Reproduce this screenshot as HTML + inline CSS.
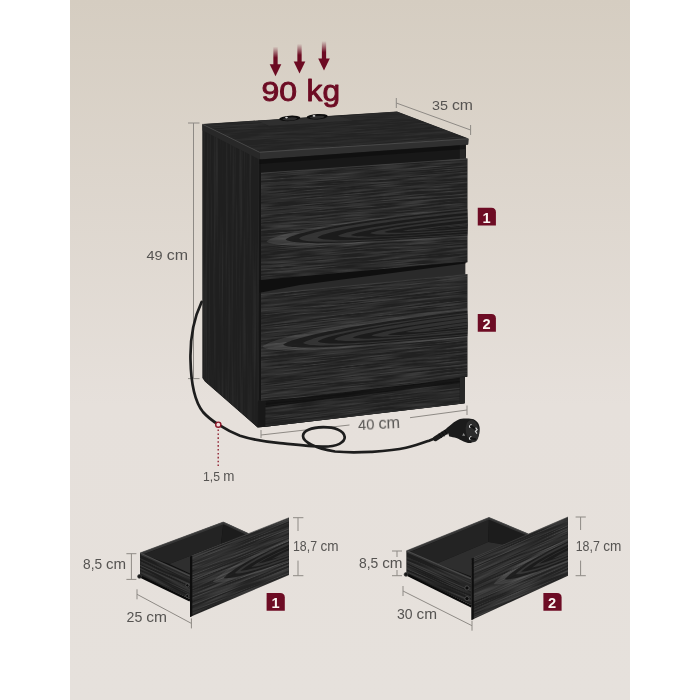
<!DOCTYPE html>
<html lang="en">
<head>
<meta charset="utf-8">
<title>Nightstand dimensions</title>
<style>
html,body{margin:0;padding:0;background:#fff;}
body{width:700px;height:700px;overflow:hidden;font-family:"Liberation Sans",sans-serif;}
svg{display:block;}
text{font-family:"Liberation Sans",sans-serif;}
.dim{fill:#545250;}
.ln{stroke:#8e8a85;stroke-width:1;fill:none;}
.red{fill:#6c0a22;}
.cath path{stroke:none;}
</style>
</head>
<body>
<svg width="700" height="700" viewBox="0 0 700 700">
<defs>
  <linearGradient id="bg" x1="0" y1="0" x2="0" y2="1">
    <stop offset="0" stop-color="#d5cdc1"/>
    <stop offset="0.58" stop-color="#e6e0db"/>
    <stop offset="1" stop-color="#e6e1dc"/>
  </linearGradient>
  <linearGradient id="shaft" x1="0" y1="0" x2="0" y2="1">
    <stop offset="0" stop-color="#6c0a22" stop-opacity="0"/>
    <stop offset="0.6" stop-color="#6c0a22" stop-opacity="1"/>
  </linearGradient>
  <filter id="grain" x="0" y="0" width="100%" height="100%" color-interpolation-filters="sRGB">
    <feTurbulence type="fractalNoise" baseFrequency="0.03 1.4" numOctaves="1" seed="11" result="n"/>
    <feColorMatrix in="n" type="matrix" values="0 0 0 0 1  0 0 0 0 1  0 0 0 0 1  3.2 0 0 0 -1.25"/>
  </filter>
  <filter id="grainV" x="0" y="0" width="100%" height="100%" color-interpolation-filters="sRGB">
    <feTurbulence type="fractalNoise" baseFrequency="0.5 0.008" numOctaves="2" seed="5" result="n"/>
    <feColorMatrix in="n" type="matrix" values="0 0 0 0 1  0 0 0 0 1  0 0 0 0 1  2.4 0 0 0 -0.95"/>
  </filter>
  <filter id="soft" x="-5%" y="-5%" width="110%" height="110%"><feGaussianBlur stdDeviation="0.6"/></filter>
  <clipPath id="cd1"><polygon points="261,173 467.3,158.6 467.3,262.3 261,280.6"/></clipPath>
  <clipPath id="cd2"><polygon points="261,294.3 467.3,274.3 467.3,376.8 420,383.2 360,390.3 300,397.5 261,400.9"/></clipPath>
  <clipPath id="ctop"><polygon points="202.3,124 397,111.5 468.5,138.5 259.5,152"/></clipPath>
  <clipPath id="cside"><polygon points="202.5,125 259.5,153 259.5,400.9 258,401 257.6,427.4 205,381.5 202.4,378"/></clipPath>
  <clipPath id="cplinth"><polygon points="265.5,401.5 459.8,377.8 459.8,403.9 265.3,426.8"/></clipPath>
  <clipPath id="csL"><polygon points="140.1,552.9 190,576 190,598.8 140.1,576"/></clipPath>
  <clipPath id="csR"><polygon points="406.6,550.7 471.5,579 471.5,605 406.6,574"/></clipPath>
  <clipPath id="cfL"><polygon points="190,556.6 289,517.7 289,575 190,617"/></clipPath>
  <clipPath id="cfR"><polygon points="471.5,558.6 568,517 568,575.7 471.5,620"/></clipPath>
</defs>

<!-- background -->
<rect x="0" y="0" width="700" height="700" fill="#ffffff"/>
<rect x="70" y="0" width="560" height="700" fill="url(#bg)"/>

<!-- ================= CABINET ================= -->
<g id="cabinet">
  <polygon points="202.6,124.3 397,111.8 468.4,138.8 468,144.6 465.2,145 465.2,158.8 467.3,158.7 467.3,262.3 465,262.5 465,274.5 467.3,274.3 467.3,376.8 464.8,377 464.6,403.3 265.3,426.8 257.6,427.4 205,381.5 202.8,378" fill="#1b1b1b"/>
  <!-- left side panel -->
  <polygon points="202.5,125 259.5,153 259.5,400.9 258,401 257.6,427.4 205,381.5 202.4,378" fill="#1f1f1f"/>
  <g clip-path="url(#cside)">
    <rect x="200" y="120" width="70" height="320" fill="#fff" filter="url(#grainV)" opacity="0.05"/>
  </g>
  <!-- side panel front edge (bottom-left) -->
  <polygon points="258,400.4 265.6,401.5 265.3,426.8 257.6,427.4" fill="#191919"/>
  <!-- recess / carcass front -->
  <polygon points="259.5,153 466,139 464.6,403.3 265.3,426.8 259.5,420" fill="#181818"/>
  <!-- right side panel front edge -->
  <polygon points="459.8,145.2 465,144.8 464.6,403.3 459.8,403.9" fill="#262626"/>
  <!-- plinth -->
  <polygon points="265.5,401.5 459.8,377.8 459.8,403.9 265.3,426.8" fill="#212121"/>
  <g clip-path="url(#cplinth)">
    <rect x="255" y="420" width="220" height="45" transform="matrix(1,-0.12,0,1,0,0)" fill="#fff" filter="url(#grain)" opacity="0.10"/>
  </g>
  <polygon points="265.5,401 459.8,377.3 459.8,383 265.5,407" fill="#0c0c0c" opacity="0.7"/>
  <!-- top slab -->
  <polygon points="202.3,124 397,111.5 468.5,138.5 259.5,152" fill="#242424"/>
  <g clip-path="url(#ctop)">
    <rect x="195" y="125" width="285" height="60" transform="matrix(1,-0.064,0,1,0,0)" fill="#fff" filter="url(#grain)" opacity="0.05"/>
  </g>
  <!-- socket panel -->
  <polygon points="257.7,120.7 339,116.2 353,120.6 269,125.8" fill="#2f2f2f"/>
  <g id="sockets">
    <ellipse cx="289.8" cy="118.4" rx="10.6" ry="2.7" fill="#0c0c0c" transform="rotate(-3.5 289.8 118.4)"/>
    <ellipse cx="289.8" cy="118.9" rx="7.4" ry="1.5" fill="#2e2e2e" transform="rotate(-3.5 289.8 118.9)"/>
    <ellipse cx="286.5" cy="117.6" rx="1.4" ry="0.8" fill="#d8d8d8"/>
    <ellipse cx="317.2" cy="116.7" rx="10.6" ry="2.7" fill="#0c0c0c" transform="rotate(-3.5 317.2 116.7)"/>
    <ellipse cx="317.2" cy="117.2" rx="7.4" ry="1.5" fill="#2e2e2e" transform="rotate(-3.5 317.2 117.2)"/>
    <ellipse cx="314" cy="115.9" rx="1.4" ry="0.8" fill="#d8d8d8"/>
  </g>
  <polygon points="259.5,152 468.6,138.7 468.2,144.6 259.5,159.5" fill="#303030"/>
  <polygon points="202.3,124 259.5,152 259.5,159.5 202.6,130.5" fill="#282828"/>
  <path d="M202.6,124.3 L259.5,152.2 L468,138.8" stroke="#585858" stroke-width="0.7" fill="none"/>
  <path d="M259.9,159.5 V400" stroke="#141414" stroke-width="1.3" fill="none"/>
  <!-- shadow under slab -->
  <polygon points="259.5,159.5 465.2,145 465.2,149 259.5,164" fill="#0c0c0c" opacity="0.6"/>
  <!-- drawer 1 -->
  <polygon points="261,173 467.3,158.6 467.3,262.3 261,280.6" fill="#212121"/>
  <g clip-path="url(#cd1)">
    <rect x="255" y="175" width="220" height="130" transform="matrix(1,-0.078,0,1,0,0)" fill="#fff" filter="url(#grain)" opacity="0.13"/>
    <g class="cath">
    <path d="M500.0,205.1 C371.5,215.8 276.4,231.3 266.4,241.5 C276.4,250.0 371.5,243.6 500.0,234.9 Z" fill="#ffffff" fill-opacity="0.10"/>
    <path d="M500.0,206.4 C382.1,216.3 295.6,230.3 285.6,239.6 C295.6,247.3 382.1,241.3 500.0,233.4 Z" fill="#181818" fill-opacity="0.85"/>
    <path d="M500.0,208.0 C389.5,217.3 309.1,230.3 299.1,238.7 C309.1,245.7 389.5,239.8 500.0,232.5 Z" fill="#ffffff" fill-opacity="0.10"/>
    <path d="M500.0,209.7 C399.6,218.3 327.4,229.9 317.4,237.4 C327.4,243.6 399.6,238.2 500.0,231.6 Z" fill="#181818" fill-opacity="0.85"/>
    <path d="M500.0,212.2 C410.9,219.9 348.0,229.7 338.0,235.8 C348.0,240.9 410.9,235.7 500.0,230.0 Z" fill="#ffffff" fill-opacity="0.10"/>
    <path d="M500.0,214.0 C418.0,221.1 360.9,229.8 350.9,235.0 C360.9,239.3 418.0,234.3 500.0,229.1 Z" fill="#181818" fill-opacity="0.85"/>
    <path d="M500.0,215.3 C428.6,221.7 380.1,228.9 370.1,233.2 C380.1,236.7 428.6,232.1 500.0,227.7 Z" fill="#ffffff" fill-opacity="0.10"/>
    <path d="M500.0,216.9 C436.4,222.7 394.4,228.7 384.4,231.9 C394.4,234.6 436.4,230.2 500.0,226.4 Z" fill="#181818" fill-opacity="0.85"/>
    <path d="M500.0,219.8 C446.5,224.8 412.8,229.0 402.8,230.7 C412.8,232.1 446.5,227.8 500.0,224.7 Z" fill="#ffffff" fill-opacity="0.10"/>
    <path d="M500.0,220.7 C456.5,224.9 430.8,228.0 420.8,229.2 C430.8,230.2 456.5,226.4 500.0,224.1 Z" fill="#181818" fill-opacity="0.85"/>
    <path d="M500.0,220.9 C466.6,224.5 449.3,226.5 439.3,227.2 C449.3,227.8 466.6,224.6 500.0,223.0 Z" fill="#ffffff" fill-opacity="0.10"/>
    </g>
  </g>
  <path d="M261,173.2 L467.3,158.8" stroke="#4c4c4c" stroke-width="0.6" fill="none"/>
  <!-- gap between drawers: top of drawer 2 + shadow -->
  <polygon points="261,281 465,262.5 465,274.5 261,294.5" fill="#2a2a2a"/>
  <polygon points="259.5,280 465.5,261.8 465.5,263.6 300,285 261,292.5 259.5,292.5" fill="#0f0f0f"/>
  <!-- drawer 2 -->
  <polygon points="261,294.3 467.3,274.3 467.3,376.8 420,383.2 360,390.3 300,397.5 261,400.9" fill="#212121"/>
  <g clip-path="url(#cd2)">
    <rect x="255" y="300" width="220" height="138" transform="matrix(1,-0.105,0,1,0,0)" fill="#fff" filter="url(#grain)" opacity="0.13"/>
    <g class="cath">
    <path d="M500.0,304.3 C369.3,317.8 272.4,336.3 262.4,346.8 C272.4,355.6 369.3,346.5 500.0,335.0 Z" fill="#ffffff" fill-opacity="0.10"/>
    <path d="M500.0,307.2 C380.8,319.5 293.2,335.8 283.2,344.7 C293.2,352.1 380.8,343.4 500.0,333.1 Z" fill="#181818" fill-opacity="0.85"/>
    <path d="M500.0,309.1 C391.6,320.5 313.0,335.1 303.0,343.0 C313.0,349.7 391.6,341.6 500.0,332.3 Z" fill="#ffffff" fill-opacity="0.10"/>
    <path d="M500.0,310.4 C399.8,320.9 327.8,334.2 317.8,341.4 C327.8,347.3 399.8,339.7 500.0,331.1 Z" fill="#181818" fill-opacity="0.85"/>
    <path d="M500.0,311.2 C408.8,320.9 344.2,332.9 334.2,339.2 C344.2,344.5 408.8,337.5 500.0,329.8 Z" fill="#ffffff" fill-opacity="0.10"/>
    <path d="M500.0,314.1 C418.8,322.8 362.4,332.7 352.4,337.5 C362.4,341.4 418.8,334.7 500.0,327.9 Z" fill="#181818" fill-opacity="0.85"/>
    <path d="M500.0,314.8 C429.3,322.6 381.4,331.2 371.4,335.6 C381.4,339.2 429.3,333.3 500.0,327.6 Z" fill="#ffffff" fill-opacity="0.10"/>
    <path d="M500.0,317.9 C438.2,324.8 397.7,331.6 387.7,334.5 C397.7,336.9 438.2,331.2 500.0,326.3 Z" fill="#181818" fill-opacity="0.85"/>
    <path d="M500.0,318.6 C448.0,324.5 415.4,329.9 405.4,332.0 C415.4,333.8 448.0,328.7 500.0,324.8 Z" fill="#ffffff" fill-opacity="0.10"/>
    <path d="M500.0,320.9 C459.8,325.7 437.0,329.2 427.0,330.1 C437.0,330.8 459.8,326.4 500.0,323.5 Z" fill="#181818" fill-opacity="0.85"/>
    <path d="M500.0,321.4 C469.2,325.4 454.0,327.8 444.0,328.5 C454.0,329.1 469.2,325.5 500.0,323.5 Z" fill="#ffffff" fill-opacity="0.10"/>
    </g>
  </g>
  <path d="M261,294.5 L467.3,274.5" stroke="#4c4c4c" stroke-width="0.6" fill="none"/>
</g>

<!-- ================= DIMENSION LINES ================= -->
<g class="ln">
  <path d="M396.3,103 L470.6,130 M396.3,98 V108 M470.6,125 V135"/>
  <path d="M193.5,123 V378.6 M188,123 H199.5 M188,378.6 H199.5"/>
  <path d="M261,435 L349.5,425 M410,417.7 L467,410 M261,430 V438 M467,405.5 V415"/>
  <path d="M131.4,553.7 V579.4 M126.4,553.7 H136.4 M126.4,579.4 H136.4"/>
  <path d="M137,594.3 L191.4,623.4 M137,589.3 V599.3 M191.4,618.4 V628.4"/>
  <path d="M298,517.7 V531 M298,560.6 V575.7 M293,517.7 H303.4 M293,575.7 H303.4"/>
  <path d="M397,551 V557 M397,570 V575.7 M392,551 H402 M392,575.7 H402"/>
  <path d="M403,591 L472,625.7 M403,586 V596 M472,620.7 V630.7"/>
  <path d="M580.6,517 V530 M580.6,560.6 V575.7 M575.6,517 H585.8 M575.6,575.7 H585.8"/>
</g>

<!-- ================= BADGES ================= -->
<g id="badges" opacity="0.99" font-weight="bold" font-size="14.6" text-anchor="middle" fill="#fbf6f2">
  <path class="red" d="M477.75,207.75 H491.4 Q495.9,207.75 495.9,212.3 V225.6 H477.75 Z"/>
  <text x="486.6" y="222.8">1</text>
  <path class="red" d="M477.75,313.9 H491.4 Q495.9,313.9 495.9,318.5 V331.7 H477.75 Z"/>
  <text x="486.5" y="328.8">2</text>
  <path class="red" d="M266.6,593 H280.2 Q284.8,593 284.8,597.6 V610.8 H266.6 Z"/>
  <text x="275.5" y="608.0">1</text>
  <path class="red" d="M543.4,593 H557.0 Q561.6,593 561.6,597.6 V610.8 H543.4 Z"/>
  <text x="552.1" y="607.9">2</text>
</g>

<!-- ================= ARROWS ================= -->
<g id="arrows">
  <rect x="273.35" y="46.5" width="4.3" height="18.7" fill="url(#shaft)"/>
  <polygon class="red" points="269.7,64.2 281.3,64.2 275.5,76.2"/>
  <rect x="297.35" y="43.8" width="4.3" height="18.6" fill="url(#shaft)"/>
  <polygon class="red" points="293.7,61.4 305.3,61.4 299.5,73.4"/>
  <rect x="321.85" y="41" width="4.3" height="18.6" fill="url(#shaft)"/>
  <polygon class="red" points="318.2,58.6 329.8,58.6 324.0,70.6"/>
</g>

<!-- ================= CABLE ================= -->
<g id="cable" fill="none" stroke="#1d1d1d" stroke-width="2.7" stroke-linecap="round" stroke-linejoin="round">
  <path d="M201.6,302 C194,318 190,340 190.5,360 C191,385 195,402 203,412 C210,420 225,430 240,435.7 C255,440.5 268,442 280,443.1 C295,444.5 310,446 322,446.7 C338,447 345,442 344.7,437 C344,430 334,427 323,427.1 C311,427.2 303,431 303,436 C303,442 315,448 335,451.5 C350,453 362,452.3 372,451.8 C390,450.5 400,449 406,447.7 C416,445.5 424,442.5 429,440.7 L437,437.5"/>
</g>

<!-- ================= LEFT DRAWER ================= -->
<g id="drawerL">
  <polygon points="140.1,552.9 223.3,522.0 248.6,533.6 190.0,556.6 190.0,598.8 140.1,576.0" fill="#101010"/>
  <polygon points="143.1,554.4 223.3,524.0 221.0,544.1 169.3,563.9" fill="#232323"/>
  <polygon points="223.3,524.0 246.6,534.8 237.9,539.3 221.0,544.1" fill="#1c1c1c"/>
  <polygon points="169.3,563.9 221.0,544.1 237.9,539.3 190.0,557.6 190.0,573.5" fill="#2e2e2e"/>
  <polygon points="140.1,552.9 190.0,576.0 190.0,598.8 140.1,576.0" fill="#1e1e1e"/>
  <g clip-path="url(#csL)"><rect x="135" y="480" width="60" height="50" transform="matrix(1,0.463,0,1,0,0)" fill="#fff" filter="url(#grain)" opacity="0.13"/></g>
  <path d="M140.9,553.9 L223.3,523.1 L247.6,534.2 M140.9,553.9 L190.0,575.7" stroke="#353535" stroke-width="2.2" fill="none" stroke-linejoin="round"/>
  <path d="M140.1,552.9 L223.3,522.0 L248.6,533.6 M140.1,552.9 L190.0,576.0" stroke="#5a5a5a" stroke-width="0.6" fill="none"/>
  <path d="M141.1,577.0 L190.0,600.3" stroke="#0a0a0a" stroke-width="2.4" fill="none"/>
  <circle cx="139.5" cy="576.4" r="1.9" fill="#151515" stroke="#3e3e3e" stroke-width="0.7"/>
  <circle cx="187.3" cy="585.4" r="1.6" fill="#0c0c0c" stroke="#5a5a5a" stroke-width="0.7"/>
  <circle cx="187.3" cy="596" r="1.6" fill="#0c0c0c" stroke="#5a5a5a" stroke-width="0.7"/>
  <polygon points="190.0,556.6 289.0,517.7 289.0,575.0 190.0,617.0" fill="#232323"/>
  <g clip-path="url(#cfL)">
    <rect x="185" y="630" width="109" height="95" transform="matrix(1,-0.393,0,1,0,0)" fill="#fff" filter="url(#grain)" opacity="0.15"/>
    <g class="cath" transform="matrix(1,-0.393,0,1,0,0)">
    <path d="M319.0,651.4 C260.6,652.4 222.7,657.1 212.7,665.6 C222.7,672.7 260.6,675.3 319.0,676.3 Z" fill="#ffffff" fill-opacity="0.10"/>
    <path d="M319.0,653.9 C266.5,654.9 233.6,658.7 223.6,665.8 C233.6,671.7 266.5,673.6 319.0,674.6 Z" fill="#181818" fill-opacity="0.85"/>
    <path d="M319.0,655.1 C272.6,656.1 244.6,659.3 234.6,665.5 C244.6,670.7 272.6,672.3 319.0,673.3 Z" fill="#ffffff" fill-opacity="0.10"/>
    <path d="M319.0,657.4 C275.6,658.4 250.2,660.6 240.2,665.3 C250.2,669.3 275.6,670.3 319.0,671.3 Z" fill="#181818" fill-opacity="0.85"/>
    <path d="M319.0,659.6 C281.7,660.6 261.3,662.0 251.3,665.8 C261.3,668.9 281.7,669.4 319.0,670.4 Z" fill="#ffffff" fill-opacity="0.10"/>
    <path d="M319.0,660.4 C285.5,661.4 268.1,662.3 258.1,665.0 C268.1,667.3 285.5,667.4 319.0,668.4 Z" fill="#181818" fill-opacity="0.85"/>
    <path d="M319.0,662.5 C293.0,663.5 281.7,663.8 271.7,665.8 C281.7,667.5 293.0,667.4 319.0,668.4 Z" fill="#ffffff" fill-opacity="0.10"/>
    </g>
  </g>
  <polygon points="190.0,556.6 192.3,555.7 192.3,616.0 190.0,617.0" fill="#0e0e0e"/>
  <path d="M192.3,555.7 L289.0,517.7" stroke="#484848" stroke-width="0.6" fill="none"/>
</g>

<!-- ================= RIGHT DRAWER ================= -->
<g id="drawerR">
  <polygon points="406.6,550.7 489.0,517.4 528.4,534.0 471.5,558.6 471.5,605.0 406.6,574.0" fill="#101010"/>
  <polygon points="409.6,552.2 489.0,519.4 488.2,542.0 437.0,563.5" fill="#232323"/>
  <polygon points="489.0,519.4 526.4,535.2 512.0,546.0 488.2,542.0" fill="#1c1c1c"/>
  <polygon points="437.0,563.5 488.2,542.0 512.0,546.0 471.5,559.6 471.5,576.5" fill="#2e2e2e"/>
  <polygon points="406.6,550.7 471.5,579.0 471.5,605.0 406.6,574.0" fill="#1e1e1e"/>
  <g clip-path="url(#csR)"><rect x="402" y="365" width="75" height="50" transform="matrix(1,0.436,0,1,0,0)" fill="#fff" filter="url(#grain)" opacity="0.13"/></g>
  <path d="M407.4,551.7 L489.0,518.5 L527.4,534.6 M407.4,551.7 L471.5,578.7" stroke="#353535" stroke-width="2.2" fill="none" stroke-linejoin="round"/>
  <path d="M406.6,550.7 L489.0,517.4 L528.4,534.0 M406.6,550.7 L471.5,579.0" stroke="#5a5a5a" stroke-width="0.6" fill="none"/>
  <path d="M407.6,575.0 L471.5,606.5" stroke="#0a0a0a" stroke-width="2.4" fill="none"/>
  <circle cx="406.0" cy="574.4" r="1.9" fill="#151515" stroke="#3e3e3e" stroke-width="0.7"/>
  <circle cx="467" cy="588" r="2.1" fill="#0c0c0c" stroke="#5a5a5a" stroke-width="0.7"/>
  <circle cx="467" cy="598.6" r="2.1" fill="#0c0c0c" stroke="#5a5a5a" stroke-width="0.7"/>
  <polygon points="471.5,558.6 568.0,517.0 568.0,575.7 471.5,620.0" fill="#232323"/>
  <g clip-path="url(#cfR)">
    <rect x="466" y="760" width="106" height="95" transform="matrix(1,-0.431,0,1,0,0)" fill="#fff" filter="url(#grain)" opacity="0.15"/>
    <g class="cath" transform="matrix(1,-0.431,0,1,0,0)">
    <path d="M598.0,782.4 C540.6,783.4 503.6,788.1 493.6,796.7 C503.6,803.8 540.6,806.3 598.0,807.3 Z" fill="#ffffff" fill-opacity="0.10"/>
    <path d="M598.0,785.0 C546.6,786.0 514.5,789.7 504.5,796.8 C514.5,802.7 546.6,804.7 598.0,805.7 Z" fill="#181818" fill-opacity="0.85"/>
    <path d="M598.0,786.1 C552.6,787.1 525.5,790.3 515.5,796.5 C525.5,801.7 552.6,803.3 598.0,804.3 Z" fill="#ffffff" fill-opacity="0.10"/>
    <path d="M598.0,788.4 C555.7,789.4 531.0,791.6 521.0,796.4 C531.0,800.4 555.7,801.3 598.0,802.3 Z" fill="#181818" fill-opacity="0.85"/>
    <path d="M598.0,790.6 C561.8,791.6 542.1,793.1 532.1,796.8 C542.1,799.9 561.8,800.5 598.0,801.5 Z" fill="#ffffff" fill-opacity="0.10"/>
    <path d="M598.0,791.5 C565.6,792.5 549.0,793.3 539.0,796.1 C549.0,798.3 565.6,798.5 598.0,799.5 Z" fill="#181818" fill-opacity="0.85"/>
    <path d="M598.0,793.5 C573.0,794.5 562.6,794.9 552.6,796.9 C562.6,798.6 573.0,798.4 598.0,799.4 Z" fill="#ffffff" fill-opacity="0.10"/>
    </g>
  </g>
  <polygon points="471.5,558.6 473.8,557.7 473.8,619.0 471.5,620.0" fill="#0e0e0e"/>
  <path d="M473.8,557.7 L568.0,517.0" stroke="#484848" stroke-width="0.6" fill="none"/>
</g>

<!-- ================= PLUG ================= -->
<g id="plug">
  <path d="M435.5,438.6 L448,430.6" stroke="#1c1c1c" stroke-width="5" stroke-linecap="round" fill="none"/>
  <path d="M439,433.5 L441.6,438 M441.8,431.8 L444.4,436.3 M444.6,430 L447.2,434.6" stroke="#0a0a0a" stroke-width="0.8" fill="none"/>
  <path d="M446.5,428.2 C450,425.5 453,422.5 456.4,420.7 C459,419.3 461,418.7 463.6,418.6 C467,418.2 471,418.4 473.6,419.3 C476.5,420.8 478,422.5 478.8,424.5 C479.8,427 479.9,429 479.6,431.4 C479.3,434.5 478.5,436.5 477.1,438.6 C475.5,441 473.5,442.4 470.7,442.9 C468,443.2 465.8,442.4 463.6,441.4 C461,440.2 459,438.9 456.4,437.9 C454,437.1 451.5,436.9 449.3,436.4 Z" fill="#1b1b1b"/>
  <ellipse cx="472.4" cy="431" rx="6.6" ry="11.2" transform="rotate(-8 472.4 431)" fill="#2c2c2c"/>
  <path d="M470.6,426.2 L474.8,428.5 M470.6,438.2 L475.3,439.3" stroke="#141414" stroke-width="2" stroke-linecap="round" fill="none"/>
  <path d="M471.6,424.6 A1.9,1.9 0 0 0 470.2,428 M471.4,436.5 A1.9,1.9 0 0 0 470.3,440" stroke="#e4e4e4" stroke-width="1" fill="none"/>
  <path d="M475.6,427.6 L477.2,429.6 L475.4,431.4 L477,433.6" stroke="#d9d9d9" stroke-width="1.1" fill="none"/>
  <path d="M463.6,433 L465.2,435.8 L462.2,435.8 Z" fill="#8a8a8a"/>
</g>
<!-- red marker -->
<circle cx="218.3" cy="424.7" r="2.6" fill="#f0dede" stroke="#8a1426" stroke-width="1.4"/>
<path d="M218.2,429.5 V466" stroke="#8a1426" stroke-width="1.3" stroke-dasharray="1.6 2.3" fill="none"/>

<!-- ================= TEXT ================= -->
<g id="labels" opacity="0.99">
<text x="261.6" y="100.5" font-size="27" class="red" stroke="#6c0a22" stroke-width="0.9" stroke-linejoin="round"><tspan textLength="35.5" lengthAdjust="spacingAndGlyphs">90</tspan><tspan x="306.6" font-size="29.5" textLength="33.5" lengthAdjust="spacingAndGlyphs">kg</tspan></text>
<text x="432" y="110" font-size="13.2" class="dim" textLength="41" lengthAdjust="spacingAndGlyphs">35 <tspan font-size="14.5">cm</tspan></text>
<text x="146.5" y="260.3" font-size="13.2" class="dim" textLength="41.5" lengthAdjust="spacingAndGlyphs">49 <tspan font-size="14.5">cm</tspan></text>
<text x="358" y="428.5" font-size="14.5" class="dim" textLength="42" lengthAdjust="spacingAndGlyphs" transform="rotate(-3 379 424)">40 <tspan font-size="16.0">cm</tspan></text>
<text x="203" y="481.4" font-size="13.0" class="dim" textLength="31.5" lengthAdjust="spacingAndGlyphs">1,5 <tspan font-size="14.3">m</tspan></text>
<text x="83" y="568.6" font-size="14.0" class="dim" textLength="43" lengthAdjust="spacingAndGlyphs">8,5 <tspan font-size="15.4">cm</tspan></text>
<text x="293" y="551.4" font-size="14.0" class="dim" textLength="45.5" lengthAdjust="spacingAndGlyphs">18,7 <tspan font-size="15.4">cm</tspan></text>
<text x="126.6" y="622.3" font-size="14.0" class="dim" textLength="40.5" lengthAdjust="spacingAndGlyphs">25 <tspan font-size="15.4">cm</tspan></text>
<text x="359" y="568" font-size="14.0" class="dim" textLength="43.5" lengthAdjust="spacingAndGlyphs">8,5 <tspan font-size="15.4">cm</tspan></text>
<text x="575.7" y="550.6" font-size="14.0" class="dim" textLength="45.7" lengthAdjust="spacingAndGlyphs">18,7 <tspan font-size="15.4">cm</tspan></text>
<text x="397" y="618.6" font-size="14.0" class="dim" textLength="40" lengthAdjust="spacingAndGlyphs">30 <tspan font-size="15.4">cm</tspan></text>
</g>
</svg>
</body>
</html>
